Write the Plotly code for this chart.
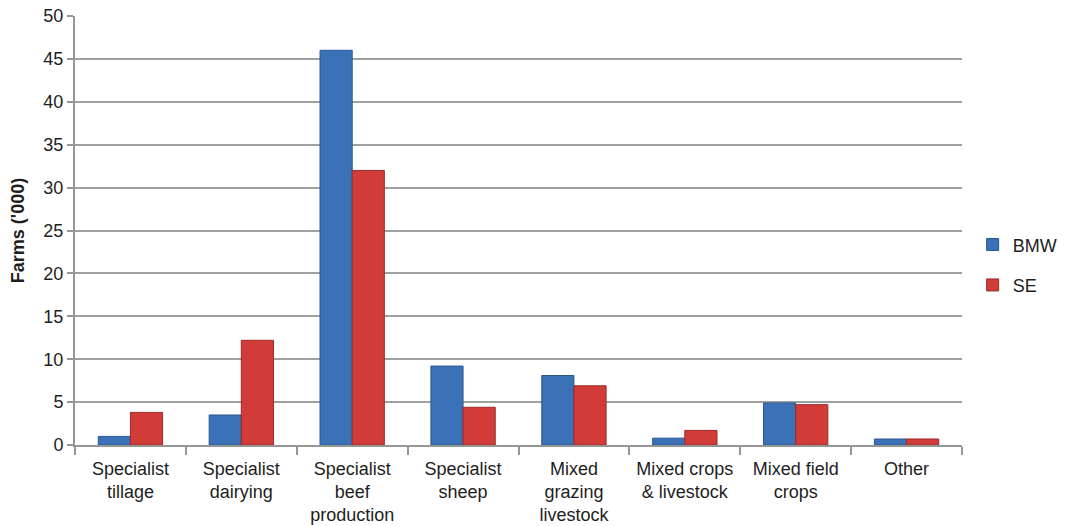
import plotly.graph_objects as go

categories = [
    "Specialist<br>tillage",
    "Specialist<br>dairying",
    "Specialist<br>beef<br>production",
    "Specialist<br>sheep",
    "Mixed<br>grazing<br>livestock",
    "Mixed crops<br>& livestock",
    "Mixed field<br>crops",
    "Other",
]
bmw = [1.0, 3.5, 46.0, 9.2, 8.1, 0.8, 4.9, 0.7]
se = [3.8, 12.2, 32.0, 4.4, 6.9, 1.7, 4.7, 0.7]

fig = go.Figure()
fig.add_trace(go.Bar(
    name="BMW", x=categories, y=bmw, legendgroup="bmw",
    marker=dict(color="#3B72B7", line=dict(color="#2B5690", width=1)),
))
fig.add_trace(go.Bar(
    name="SE", x=categories, y=se, legendgroup="se",
    marker=dict(color="#D13C39", line=dict(color="#9C2A27", width=1)),
))

font_family = "Liberation Sans, Arial, sans-serif"
fig.update_layout(
    width=1065, height=526,
    margin=dict(l=75, r=103, t=16, b=81, autoexpand=False),
    paper_bgcolor="white", plot_bgcolor="white",
    barmode="group", bargap=0.42, bargroupgap=0,
    font=dict(family=font_family, size=18, color="#1E1E1E"),
    showlegend=True,
    legend=dict(x=1.012, y=0.42, yanchor="middle", xanchor="left",
                font=dict(size=18, color="#1E1E1E"),
                traceorder="grouped", tracegroupgap=14,
                itemwidth=30),
)
fig.update_xaxes(
    automargin=False,
    showline=True, linecolor="#969696", linewidth=2,
    ticks="outside", tickson="boundaries", ticklen=8, tickcolor="#969696", tickwidth=2,
    ticklabelstandoff=6,
    tickfont=dict(size=18, color="#1E1E1E"),
    showgrid=False,
)
fig.update_yaxes(
    automargin=False,
    range=[0, 50], dtick=5,
    showline=True, linecolor="#969696", linewidth=2,
    ticks="outside", ticklen=6, tickcolor="#969696", tickwidth=2,
    showgrid=True, gridcolor="#A0A0A0", gridwidth=2,
    zeroline=False,
    tickfont=dict(size=18, color="#1E1E1E"),
    title=dict(text="<b>Farms ('000)</b>", font=dict(size=18, color="#1E1E1E"), standoff=14),
)

fig.write_html("out.html")
